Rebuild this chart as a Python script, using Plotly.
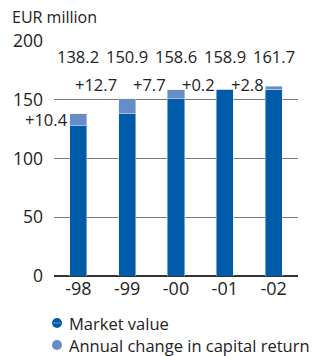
import plotly.graph_objects as go

# Data (EUR million)
years = ["-98", "-99", "-00", "-01", "-02"]
totals = [138.2, 150.9, 158.6, 158.9, 161.7]
changes = [10.4, 12.7, 7.7, 0.2, 2.8]
y_ticks = [0, 50, 100, 150, 200]

base = [round(t - c, 1) for t, c in zip(totals, changes)]

DARK = "#005CA9"
LIGHT = "#678DC9"
FONT = "Open Sans"
TXT = "#222222"
FS = 16.5

W, H = 320, 356
ML, MR, MT, MB = 54, 22, 41, 80
PW, PH = W - ML - MR, H - MT - MB


def px(x):
    return (x - ML) / PW


def py(y):
    return (H - MB - y) / PH


fig = go.Figure()
fig.add_trace(go.Bar(x=years, y=base, marker_color=DARK, width=0.35,
                     name="Market value", hoverinfo="skip"))
fig.add_trace(go.Bar(x=years, y=changes, marker_color=LIGHT, width=0.35,
                     name="Annual change in capital return", hoverinfo="skip"))

annotations = []
# totals row above the bars
for i, t in enumerate(totals):
    annotations.append(dict(x=i, y=187, text=f"{t:.1f}", showarrow=False,
                            xanchor="center", yanchor="middle",
                            font=dict(family=FONT, size=FS, color=TXT)))
# annual change labels, left of each bar
for i, c in enumerate(changes):
    annotations.append(dict(x=i, y=133 if i == 0 else 163, text=f"+{c:.1f}",
                            showarrow=False, xanchor="right", yanchor="middle",
                            xshift=-8, font=dict(family=FONT, size=FS, color=TXT)))
# unit label
annotations.append(dict(x=px(10), y=py(17), xref="paper", yref="paper",
                        text="EUR million", showarrow=False, xanchor="left",
                        yanchor="middle", font=dict(family=FONT, size=16, color=TXT)))
# legend text
for label, ypix in [("Market value", 323), ("Annual change in capital return", 345)]:
    annotations.append(dict(x=px(67), y=py(ypix), xref="paper", yref="paper",
                            text=label, showarrow=False, xanchor="left",
                            yanchor="middle", font=dict(family=FONT, size=FS, color=TXT)))

shapes = []
r = 5
for col, ypix in [(DARK, 323), (LIGHT, 345)]:
    shapes.append(dict(type="circle", xref="paper", yref="paper",
                       x0=px(57 - r), x1=px(57 + r), y0=py(ypix + r), y1=py(ypix - r),
                       fillcolor=col, line=dict(width=0)))
shapes.append(dict(type="line", xref="paper", yref="paper",
                   x0=px(52.5), x1=px(61.5), y0=py(323), y1=py(323),
                   line=dict(color=LIGHT, width=1)))

fig.update_layout(
    width=W, height=H, barmode="stack", showlegend=False,
    margin=dict(l=ML, r=MR, t=MT, b=MB),
    paper_bgcolor="white", plot_bgcolor="white",
    annotations=annotations, shapes=shapes,
    xaxis=dict(type="category", range=[-0.5, 4.5], showgrid=False, showline=False,
               zeroline=False, ticks="",
               tickfont=dict(family=FONT, size=18, color=TXT)),
    yaxis=dict(range=[0, 200], tickvals=y_ticks, showgrid=True, gridcolor="#7a7a7a",
               gridwidth=1, zeroline=True, zerolinecolor="#333333", zerolinewidth=2,
               showline=False, ticks="", ticklabelstandoff=10,
               tickfont=dict(family=FONT, size=17.5, color=TXT)),
)

fig.write_html("out.html")
